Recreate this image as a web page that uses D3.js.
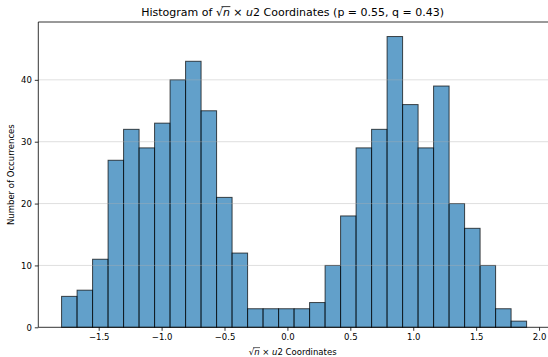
<!DOCTYPE html>
<html>
<head>
<meta charset="utf-8">
<script src="https://cdn.jsdelivr.net/npm/d3@7"></script>
<style>
  body { margin: 0; background: #fff; }
  svg { display: block; font-family: "DejaVu Sans", sans-serif; }
</style>
</head>
<body>
<svg id="chart"></svg>
<script>
(function (d3) {
    // histogram of sqrt(n) * u2, 30 bins
    const binStart = -1.795;
    const binWidth = 0.1232;
    const counts = [5, 6, 11, 27, 32, 29, 33, 40, 43, 35, 21, 12, 3, 3, 3,
                    3, 4, 10, 18, 29, 32, 47, 36, 29, 39, 20, 16, 10, 3, 1];
    const xTicks = [-1.5, -1.0, -0.5, 0.0, 0.5, 1.0, 1.5, 2.0];
    const yTicks = [0, 10, 20, 30, 40];

    const width = 548, height = 357;
    const left = 38.3, right = 550, top = 22, bottom = 327.3;

    const svg = d3.select('#chart').attr('width', width).attr('height', height);

    const bins = counts.map((c, i) => ({
        x0: binStart + i * binWidth,
        x1: binStart + (i + 1) * binWidth,
        n: c
    }));

    const x = d3.scaleLinear().domain([-1.98, 2.087]).range([left, right]);
    const y = d3.scaleLinear().domain([0, 47 * 1.05]).range([bottom, top]);

    const fmt = d => d3.format('.1f')(d).replace('-', '\u2212');

    // bars
    svg.append('g').selectAll('rect').data(bins).join('rect')
        .attr('x', d => x(d.x0))
        .attr('y', d => y(d.n))
        .attr('width', d => x(d.x1) - x(d.x0))
        .attr('height', d => y(0) - y(d.n))
        .attr('fill', '#1f77b4').attr('fill-opacity', 0.7)
        .attr('stroke', '#000').attr('stroke-opacity', 0.7)
        .attr('stroke-width', 1);

    // grid above bars (matplotlib default zorder)
    svg.append('g').selectAll('line').data(yTicks.filter(t => t > 0)).join('line')
        .attr('x1', left).attr('x2', right)
        .attr('y1', d => y(d)).attr('y2', d => y(d))
        .attr('stroke', '#b0b0b0').attr('stroke-opacity', 0.5)
        .attr('stroke-width', 0.8);

    // axes
    const xAxis = svg.append('g').attr('transform', `translate(0,${bottom})`)
        .call(d3.axisBottom(x).tickValues(xTicks).tickFormat(fmt).tickSize(3.5).tickPadding(3));
    const yAxis = svg.append('g').attr('transform', `translate(${left},0)`)
        .call(d3.axisLeft(y).tickValues(yTicks).tickSize(3.5).tickPadding(3));
    [xAxis, yAxis].forEach(a => {
        a.select('.domain').remove();
        a.selectAll('line').attr('stroke', '#000').attr('stroke-width', 0.8);
        a.selectAll('text').attr('fill', '#000').style('font-size', '8.5px')
            .style('font-family', '"DejaVu Sans", sans-serif');
    });

    // spines
    svg.append('path')
        .attr('d', `M${right},${top}H${left}V${bottom}H${right}V${top}`)
        .attr('fill', 'none').attr('stroke', '#000').attr('stroke-width', 0.8);

    // text with sqrt(n) and italic u2
    function mathText(g, px, py, size, pre, post, anchor) {
        const t = g.append('text').attr('x', px).attr('y', py)
            .attr('text-anchor', anchor || 'middle')
            .style('font-size', size + 'px').attr('fill', '#000');
        t.append('tspan').text(pre + '\u221A');
        const n = t.append('tspan').attr('font-style', 'italic').text('n');
        t.append('tspan').text(' \u00D7 ');
        t.append('tspan').attr('font-style', 'italic').text('u');
        t.append('tspan').text('2' + post);
        const node = t.node();
        const idx = pre.length + 1;
        const ext = node.getExtentOfChar(idx);
        const sq = node.getExtentOfChar(idx - 1);
        g.append('line')
            .attr('x1', sq.x + sq.width * 0.8).attr('x2', ext.x + ext.width + 0.5)
            .attr('y1', sq.y + 0.6).attr('y2', sq.y + 0.6)
            .attr('stroke', '#000').attr('stroke-width', size / 14);
        return t;
    }

    mathText(svg, (left + 547) / 2, 16, 11,
        'Histogram of ', ' Coordinates (p = 0.55, q = 0.43)');
    mathText(svg, (left + 547) / 2, 355, 8.5, '', ' Coordinates');

    svg.append('text')
        .attr('transform', `translate(14,${(top + bottom) / 2}) rotate(-90)`)
        .attr('text-anchor', 'middle')
        .style('font-size', '8.5px').attr('fill', '#000')
        .text('Number of Occurrences');
})(d3);
</script>
</body>
</html>
